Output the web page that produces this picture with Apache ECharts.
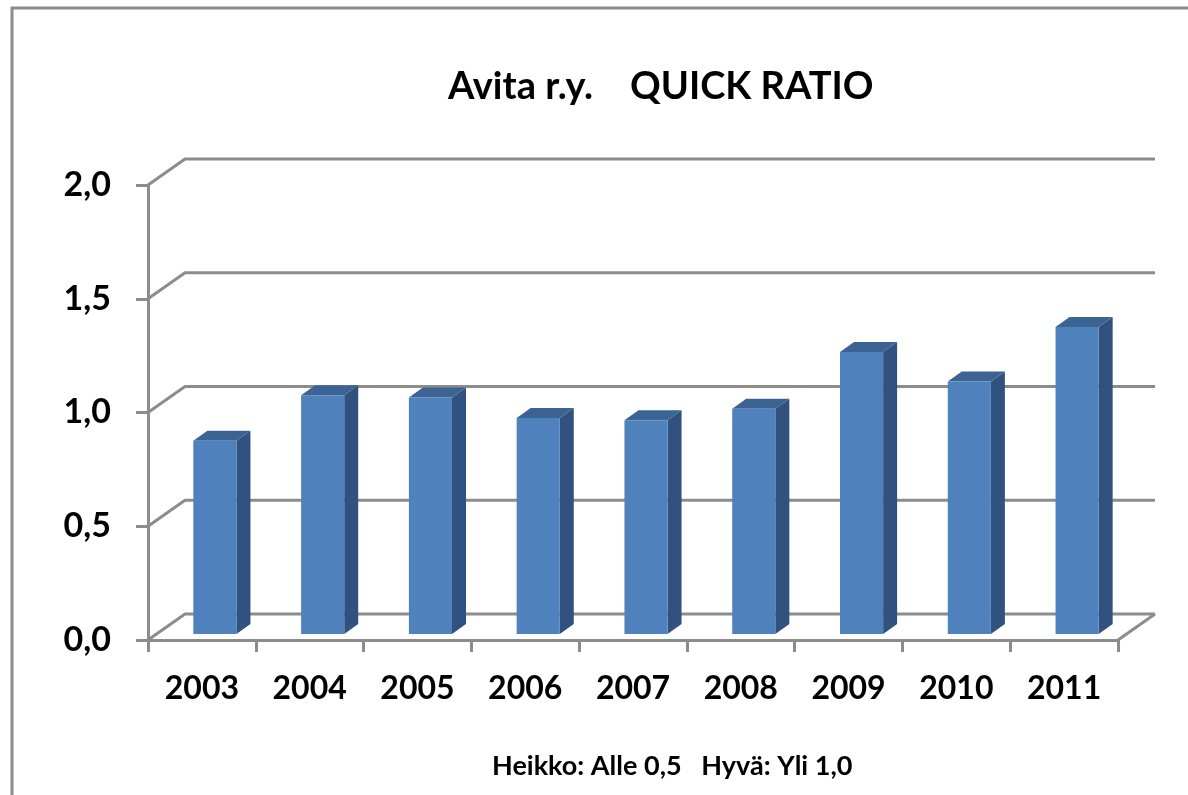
<!DOCTYPE html>
<html>
<head>
<meta charset="utf-8">
<script src="https://cdn.jsdelivr.net/npm/echarts@6/dist/echarts.min.js"></script>
<style>
  html, body { margin: 0; padding: 0; background: #fff; overflow: hidden; }
  #main { width: 1188px; height: 795px; }
</style>
</head>
<body>
<div id="main"></div>
<script>
// Quick ratio, Avita r.y.
var years = ['2003', '2004', '2005', '2006', '2007', '2008', '2009', '2010', '2011'];
var quickRatio = [0.85, 1.05, 1.04, 0.95, 0.94, 0.99, 1.24, 1.11, 1.35];
var yTicks = [0, 0.5, 1.0, 1.5, 2.0];

var chart = echarts.init(document.getElementById('main'));
var FONT = 'Lato';
var GRAY = '#8c8c8c';
// 3D depth of the back wall and of the bars
var WALL_DX = 37, WALL_DY = -26;
var BAR_DX = 14, BAR_DY = -10;
var BAR_SHIFT_X = 13, BAR_SHIFT_Y = -6;

function fmt(v) {
  return v.toFixed(1).replace('.', ',');
}

// back wall gridlines + left wall diagonals + floor
function renderWall(params, api) {
  var cs = params.coordSys;
  var x0 = cs.x, x1 = cs.x + cs.width;
  var y = api.coord([0, api.value(1)])[1];
  var kids = [{
    type: 'polyline',
    shape: { points: [[x0, y], [x0 + WALL_DX, y + WALL_DY], [x1 + WALL_DX, y + WALL_DY]] },
    style: { stroke: GRAY, lineWidth: 3, fill: null }
  }];
  if (params.dataIndex === 0) {
    kids.push({
      type: 'line',
      shape: { x1: x1, y1: y, x2: x1 + WALL_DX, y2: y + WALL_DY },
      style: { stroke: GRAY, lineWidth: 3 }
    });
  }
  return { type: 'group', children: kids };
}

function renderBar(params, api) {
  var top = api.coord([api.value(0), api.value(1)]);
  var base = api.coord([api.value(0), 0]);
  var w = api.size([1, 0])[0] * 0.4;
  var x = top[0] - w / 2 + BAR_SHIFT_X;
  var yt = top[1] + BAR_SHIFT_Y;
  var yb = base[1] + BAR_SHIFT_Y;
  return {
    type: 'group',
    children: [
      {
        type: 'polygon',
        shape: { points: [[x + w, yt], [x + w + BAR_DX, yt + BAR_DY], [x + w + BAR_DX, yb + BAR_DY], [x + w, yb]] },
        style: { fill: '#31527e' }
      },
      {
        type: 'polygon',
        shape: { points: [[x, yt], [x + BAR_DX, yt + BAR_DY], [x + w + BAR_DX, yt + BAR_DY], [x + w, yt]] },
        style: { fill: '#3b6494' }
      },
      {
        type: 'rect',
        shape: { x: x, y: yt, width: w, height: yb - yt },
        style: { fill: '#4f81bd' }
      }
    ]
  };
}

option = {
  animation: false,
  backgroundColor: '#fff',
  graphic: [{
    type: 'polyline',
    shape: { points: [[12, 800], [12, 8], [1200, 8]] },
    style: { fill: null, stroke: GRAY, lineWidth: 3 }
  }],
  title: [
    {
      text: 'Avita r.y.    QUICK RATIO',
      left: 443,
      top: 63,
      textStyle: { fontFamily: FONT, fontSize: 38, fontWeight: 'bold', color: '#000' }
    },
    {
      text: 'Heikko: Alle 0,5   Hyvä: Yli 1,0',
      left: 487,
      top: 748,
      textStyle: { fontFamily: FONT, fontSize: 27, fontWeight: 'bold', color: '#000' }
    }
  ],
  grid: {
    left: 148,
    right: 70,
    top: 185,
    bottom: 155
  },
  xAxis: {
    type: 'category',
    data: years,
    axisLine: { lineStyle: { color: GRAY, width: 3 } },
    axisTick: { show: true, length: 12, lineStyle: { color: GRAY, width: 3 } },
    axisLabel: { margin: 33, fontFamily: FONT, fontSize: 32, fontWeight: 'bold', color: '#000' }
  },
  yAxis: {
    type: 'value',
    min: 0,
    max: 2,
    interval: 0.5,
    axisLine: { show: true, lineStyle: { color: GRAY, width: 3 } },
    axisTick: { show: true, length: 12, lineStyle: { color: GRAY, width: 3 } },
    splitLine: { show: false },
    axisLabel: {
      margin: 37,
      fontFamily: FONT, fontSize: 34, fontWeight: 'bold', color: '#000',
      formatter: fmt
    }
  },
  series: [
    {
      type: 'custom',
      renderItem: renderWall,
      encode: { x: 0, y: 1 },
      data: yTicks.map(function (v) { return [0, v]; }),
      z: 1,
      silent: true
    },
    {
      type: 'custom',
      renderItem: renderBar,
      encode: { x: 0, y: 1 },
      data: quickRatio.map(function (v, i) { return [i, v]; }),
      z: 2
    }
  ]
};
chart.setOption(option);
</script>
</body>
</html>
